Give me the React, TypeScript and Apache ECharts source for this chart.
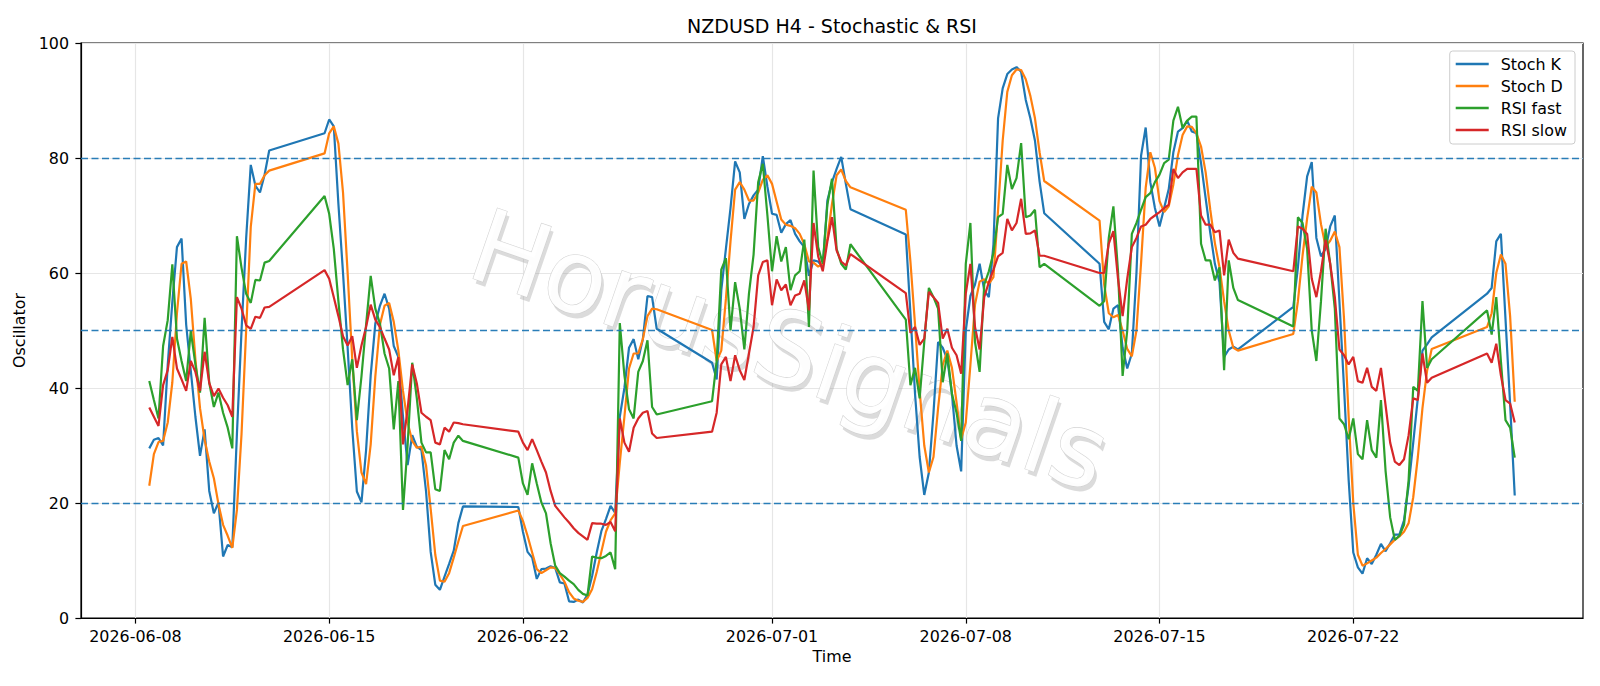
import React, { useEffect, useRef } from "react";
import * as echarts from "echarts";

// Start of each trading session (UTC); bars follow every 4 hours
const sessionStarts = [
  "2026-06-08T12:00:00Z",
  "2026-06-14T20:00:00Z",
  "2026-06-21T20:00:00Z",
  "2026-06-28T20:00:00Z",
  "2026-07-05T20:00:00Z",
  "2026-07-12T20:00:00Z",
  "2026-07-19T20:00:00Z",
  "2026-07-26T20:00:00Z",
];
const barHours = 4;

const stochK = [
  [29.5, 31.0, 31.3, 30.0, 44.0, 55.0, 64.5, 66.0, 51.0, 43.0, 35.0, 28.2, 32.8, 22.1, 18.2, 20.1, 10.7, 12.7, 12.3, 32.0, 50.0, 66.0, 78.8, 75.2, 74.0, 77.1, 81.3],
  [84.3, 86.7, 85.5, 72.0, 60.0, 47.0, 33.0, 22.0, 20.1, 29.2, 42.2, 51.2, 54.3, 56.4, 53.8, 47.3, 45.4, 35.0, 26.6, 31.8, 29.8, 29.2, 22.0, 11.5, 5.8, 4.9, 7.2, 9.4, 11.7, 16.5, 19.4],
  [19.3, 15.0, 11.5, 10.5, 6.8, 8.5, 8.6, 9.0, 8.7, 6.2, 6.0, 2.9, 2.8, 3.2, 2.7, 4.1, 7.3, 11.4, 15.1, 17.2, 19.5, 18.3, 35.0, 40.0, 47.0, 48.5, 45.0, 48.5, 56.0, 55.8, 50.3],
  [44.4, 41.5, 57.0, 64.2, 71.3, 79.4, 77.5, 69.4, 72.0, 73.5, 74.5, 80.3, 75.0, 70.3, 70.1, 67.0, 68.5, 69.2, 66.8, 65.5, 64.5, 59.5, 62.2, 62.0, 61.0, 72.6, 75.8, 78.1, 80.2, 75.5, 71.1],
  [66.7, 53.0, 39.0, 28.0, 21.4, 25.3, 35.7, 48.0, 47.0, 45.0, 39.0, 30.0, 25.5, 50.0, 56.0, 58.0, 61.6, 57.0, 55.8, 65.0, 86.9, 92.1, 94.6, 95.4, 95.8, 95.0, 90.1, 86.9, 83.0, 75.9, 70.4],
  [61.6, 51.5, 50.2, 53.8, 54.4, 47.0, 43.4, 46.0, 60.0, 80.4, 85.3, 75.8, 71.3, 68.1, 71.3, 74.6, 81.0, 84.6, 85.2, 86.5, 84.6, 84.3, 79.1, 73.0, 67.0, 61.6, 58.4, 45.4, 46.7, 47.2, 46.7],
  [54.1, 61.0, 70.0, 76.8, 79.3, 66.1, 62.9, 64.2, 68.1, 70.0, 55.0, 40.0, 24.0, 11.4, 8.8, 7.7, 10.4, 9.4, 11.0, 12.9, 11.6, 13.0, 14.5, 14.5, 17.0, 23.0, 30.5, 38.3, 46.5, 47.6, 48.8],
  [56.4, 57.4, 65.5, 66.8, 52.0, 37.2, 21.3],
];

const stochD = [
  [23.0, 28.5, 30.6, 30.8, 34.0, 41.0, 53.0, 61.6, 62.0, 55.5, 45.0, 36.5, 31.0, 27.2, 24.3, 19.8, 16.2, 14.3, 12.2, 18.8, 32.0, 50.0, 68.0, 75.5, 75.5, 77.0, 77.8],
  [80.8, 84.3, 85.5, 82.5, 74.0, 60.0, 45.0, 32.5, 25.3, 23.3, 30.2, 42.0, 51.0, 54.3, 54.8, 51.5, 46.5, 39.5, 34.0, 30.8, 29.6, 29.8, 26.5, 19.0, 11.0, 6.5, 6.3, 7.8, 10.5, 13.3, 16.0],
  [18.7, 16.9, 14.3, 11.4, 8.5, 7.8, 8.3, 8.8, 8.7, 7.6, 6.3, 4.5, 3.4, 3.0, 2.8, 3.5, 5.0, 8.0, 11.5, 15.0, 17.0, 18.2, 27.0, 35.0, 43.4, 46.0, 46.0, 48.5, 52.5, 53.8, 53.7],
  [50.1, 44.7, 46.5, 55.5, 65.5, 74.5, 75.8, 74.5, 72.6, 72.6, 74.0, 76.2, 77.0, 75.5, 72.4, 69.3, 68.4, 68.2, 67.8, 66.8, 65.0, 62.0, 61.8, 61.1, 61.6, 66.0, 72.0, 77.0, 78.0, 76.0, 74.9],
  [71.0, 62.0, 51.0, 39.5, 30.0, 25.3, 28.0, 36.5, 44.0, 46.5, 43.5, 37.5, 31.1, 34.0, 44.0, 54.5, 58.5, 58.9, 58.1, 59.3, 71.0, 83.0, 91.5, 94.4, 95.4, 95.3, 93.7, 90.8, 86.9, 81.0, 76.0],
  [69.1, 58.0, 53.0, 52.3, 52.7, 50.0, 46.8, 45.5, 50.0, 61.8, 74.8, 81.0, 78.3, 72.5, 70.6, 71.6, 75.4, 80.5, 84.0, 85.5, 85.4, 84.3, 82.0, 77.5, 71.0, 65.2, 61.0, 55.1, 50.0, 47.0, 46.5],
  [49.4, 55.1, 63.0, 69.5, 75.0, 74.0, 68.5, 64.6, 65.6, 67.2, 64.5, 52.0, 35.0, 20.0, 11.0, 9.1, 9.5, 10.0, 10.5, 11.3, 12.0, 12.8, 13.6, 14.2, 15.0, 16.5, 21.0, 28.0, 36.5, 43.0, 46.8],
  [50.6, 53.0, 60.0, 63.2, 61.6, 52.5, 37.6],
];

const rsiFast = [
  [41.2, 37.9, 34.7, 47.3, 51.8, 61.5, 48.6, 44.7, 41.2, 49.9, 44.1, 39.2, 52.2, 40.9, 36.7, 39.2, 35.7, 33.1, 29.5, 66.4, 60.9, 56.4, 54.8, 58.8, 58.7, 61.8, 62.1],
  [73.4, 70.3, 64.2, 55.1, 46.7, 40.5, 45.0, 34.4, 42.0, 51.0, 59.5, 53.8, 51.2, 46.0, 43.4, 32.8, 41.2, 18.8, 30.0, 44.4, 38.2, 30.5, 28.8, 28.8, 22.4, 22.1, 29.2, 27.6, 30.5, 31.7, 30.8],
  [27.9, 23.4, 21.4, 26.9, 23.4, 20.1, 18.2, 13.0, 9.1, 7.8, 7.2, 6.5, 5.9, 4.9, 4.2, 3.9, 10.7, 10.5, 10.4, 10.8, 11.4, 8.5, 51.3, 42.2, 36.3, 34.7, 42.8, 44.7, 48.3, 36.7, 35.4],
  [37.7, 44.7, 60.6, 62.6, 50.0, 58.4, 53.8, 46.7, 56.4, 63.2, 75.8, 79.0, 70.0, 60.3, 66.4, 62.0, 64.5, 57.0, 59.6, 60.3, 65.8, 50.6, 77.8, 64.5, 61.6, 71.9, 76.4, 64.2, 61.6, 60.6, 65.0],
  [51.9, 40.5, 43.5, 38.2, 48.0, 57.4, 55.8, 53.8, 41.0, 46.0, 39.0, 35.7, 30.8, 61.6, 68.7, 48.0, 42.8, 58.0, 60.3, 63.5, 69.7, 70.3, 78.8, 74.6, 76.5, 82.6, 69.7, 70.0, 71.0, 61.0, 61.6],
  [54.3, 55.1, 66.1, 71.6, 60.3, 42.1, 50.0, 66.8, 68.7, 71.0, 73.2, 73.9, 75.8, 77.1, 79.1, 79.7, 86.5, 88.9, 85.2, 86.5, 87.2, 87.2, 65.1, 62.2, 62.2, 58.7, 61.0, 43.1, 62.2, 57.4, 55.3],
  [50.7, 69.7, 68.7, 64.2, 50.0, 44.7, 55.1, 67.7, 61.6, 53.8, 34.7, 33.7, 31.1, 34.7, 28.5, 27.6, 34.4, 29.2, 27.9, 37.9, 25.6, 17.5, 13.6, 14.3, 16.2, 24.0, 40.2, 39.5, 55.1, 43.5, 45.0],
  [53.5, 49.3, 55.8, 44.7, 34.4, 33.1, 27.9],
];

const rsiSlow = [
  [36.6, 35.0, 33.4, 40.5, 43.1, 48.9, 43.4, 41.5, 39.5, 44.7, 42.8, 39.5, 46.3, 40.9, 38.6, 39.9, 38.3, 37.0, 35.0, 55.8, 53.8, 50.9, 50.3, 52.4, 52.2, 54.0, 54.1],
  [60.5, 59.0, 55.8, 52.5, 49.0, 47.4, 49.0, 43.5, 47.4, 50.6, 54.5, 51.9, 50.6, 48.6, 46.7, 42.2, 45.4, 30.2, 36.3, 44.1, 40.8, 35.7, 35.0, 34.4, 30.5, 30.2, 33.1, 32.4, 34.0, 33.9, 33.7],
  [32.4, 30.5, 29.2, 31.1, 29.2, 27.2, 25.3, 22.1, 19.5, 18.5, 17.5, 16.6, 15.6, 14.8, 14.2, 13.6, 16.5, 16.4, 16.4, 16.2, 16.7, 15.1, 34.7, 30.5, 28.9, 33.1, 34.7, 35.7, 36.0, 32.1, 31.3],
  [32.4, 35.7, 44.1, 45.4, 41.2, 45.7, 43.1, 41.4, 46.0, 50.6, 59.6, 61.9, 62.2, 54.4, 58.9, 57.0, 58.0, 54.4, 56.1, 56.4, 58.7, 53.5, 68.7, 62.9, 60.3, 65.5, 69.7, 63.9, 62.0, 61.3, 63.3],
  [56.5, 49.6, 50.6, 47.5, 48.6, 56.7, 55.8, 54.8, 48.6, 50.3, 47.0, 45.7, 42.5, 56.4, 61.6, 50.6, 46.7, 55.8, 58.4, 60.6, 62.9, 63.5, 69.4, 67.4, 68.7, 72.9, 66.8, 66.9, 67.4, 63.0, 63.0],
  [60.0, 60.0, 65.1, 67.3, 59.0, 52.5, 59.0, 64.5, 66.1, 68.1, 68.4, 69.4, 70.0, 70.6, 71.3, 71.9, 78.1, 76.5, 77.5, 78.1, 78.1, 78.1, 70.0, 68.4, 68.4, 67.1, 67.4, 59.6, 65.8, 63.5, 62.5],
  [60.3, 68.1, 67.7, 66.8, 59.0, 55.8, 60.3, 65.8, 61.6, 55.8, 46.7, 45.7, 44.1, 45.4, 41.2, 40.9, 43.5, 40.2, 39.5, 43.5, 37.0, 30.5, 27.2, 26.6, 27.6, 31.8, 38.2, 37.9, 46.0, 40.9, 41.8],
  [46.0, 44.4, 47.7, 42.2, 37.9, 37.3, 34.0],
];

const xTickDates = ["2026-06-08", "2026-06-15", "2026-06-22", "2026-07-01", "2026-07-08", "2026-07-15", "2026-07-22"];
const levelLines = [20, 50, 80];
const seriesNames = ["Stoch K", "Stoch D", "RSI fast", "RSI slow"];
const seriesColors = ["#1f77b4", "#ff7f0e", "#2ca02c", "#d62728"];
const titleText = "NZDUSD H4 - Stochastic & RSI";
const watermarkText = "HorusSignals";

const FONT = '"DejaVu Sans", "Liberation Sans", sans-serif';

function toPoints(weeks: number[][]): [number, number][] {
  const out: [number, number][] = [];
  weeks.forEach((vals, w) => {
    const t0 = Date.parse(sessionStarts[w]);
    vals.forEach((v, i) => out.push([t0 + i * barHours * 3600 * 1000, v]));
  });
  return out;
}

function pad(n: number) {
  return n < 10 ? "0" + n : "" + n;
}

export default function App() {
  const ref = useRef<HTMLDivElement>(null);

  useEffect(() => {
    if (!ref.current) return;
    const chart = echarts.init(ref.current, null, { renderer: "svg" });

    const all = [stochK, stochD, rsiFast, rsiSlow].map(toPoints);
    const tFirst = all[0][0][0];
    const tLast = all[0][all[0].length - 1][0];
    const span = tLast - tFirst;
    const xMin = tFirst - 0.05 * span;
    const xMax = tLast + 0.05 * span;
    const xTicks = xTickDates.map((d) => Date.parse(d + "T00:00:00Z"));

    const fontSize = 15.9;

    const option: any = {
      animation: false,
      backgroundColor: "#ffffff",
      grid: {
        left: 81,
        right: 17,
        top: 43,
        bottom: 68,
        show: true,
        borderColor: "#000000",
        borderWidth: 1.2,
        backgroundColor: "transparent",
        containLabel: false,
      },
      legend: {
        data: seriesNames,
        orient: "vertical",
        right: 25,
        top: 51,
        align: "left",
        icon: "rect",
        itemWidth: 33,
        itemHeight: 2.4,
        itemGap: 6,
        backgroundColor: "rgba(255,255,255,0.8)",
        borderColor: "#cccccc",
        borderWidth: 1,
        borderRadius: 3,
        padding: [5, 8, 6, 6],
        textStyle: {
          fontFamily: FONT,
          fontSize: fontSize,
          color: "#000000",
          padding: [0, 0, 0, 7],
        },
      },
      xAxis: {
        type: "value",
        min: xMin,
        max: xMax,
        name: "Time",
        nameLocation: "middle",
        nameGap: 30,
        nameTextStyle: { fontFamily: FONT, fontSize: fontSize, color: "#000000" },
        axisLine: { show: true, lineStyle: { color: "#000000", width: 1.2 } },
        axisTick: {
          show: true,
          length: 5.6,
          inside: false,
          customValues: xTicks,
          lineStyle: { color: "#000000", width: 1.2 },
        },
        axisLabel: {
          customValues: xTicks,
          margin: 10,
          fontFamily: FONT,
          fontSize: fontSize,
          color: "#000000",
          formatter: (v: number) => {
            const d = new Date(v);
            return d.getUTCFullYear() + "-" + pad(d.getUTCMonth() + 1) + "-" + pad(d.getUTCDate());
          },
        },
        splitLine: { show: false },
      },
      yAxis: {
        type: "value",
        min: 0,
        max: 100,
        interval: 20,
        name: "Oscillator",
        nameLocation: "middle",
        nameGap: 47,
        nameTextStyle: { fontFamily: FONT, fontSize: fontSize, color: "#000000" },
        axisLine: { show: true, lineStyle: { color: "#000000", width: 1.2 } },
        axisTick: { show: true, length: 5.6, inside: false, lineStyle: { color: "#000000", width: 1.2 } },
        axisLabel: { margin: 12, fontFamily: FONT, fontSize: fontSize, color: "#000000" },
        splitLine: { show: true, lineStyle: { color: "#e6e6e6", width: 1.2 } },
      },
      graphic: {
        elements: [
          {
            type: "text",
            x: 832,
            y: 26,
            z: 10,
            style: {
              text: titleText,
              font: "19px " + FONT,
              fill: "#000000",
              align: "center",
              verticalAlign: "middle",
              textAlign: "center",
              textVerticalAlign: "middle",
            },
          },
          {
            type: "group",
            x: 790,
            y: 350,
            rotation: (-19 * Math.PI) / 180,
            z: 1,
            silent: true,
            children: [
              {
                type: "text",
                x: 4,
                y: 4,
                z: 1,
                style: {
                  text: watermarkText,
                  font: "102px " + FONT,
                  fill: "rgba(160,160,160,0.38)",
                  align: "center",
                  verticalAlign: "middle",
                  textAlign: "center",
                  textVerticalAlign: "middle",
                },
              },
              {
                type: "text",
                x: 0,
                y: 0,
                z: 1,
                style: {
                  text: watermarkText,
                  font: "102px " + FONT,
                  fill: "rgba(255,255,255,0.95)",
                  stroke: "rgba(205,205,205,0.9)",
                  lineWidth: 1.1,
                  align: "center",
                  verticalAlign: "middle",
                  textAlign: "center",
                  textVerticalAlign: "middle",
                },
              },
            ],
          },
        ],
      },
      series: [
        {
          name: "_vgrid",
          type: "line",
          data: [],
          silent: true,
          z: 0,
          markLine: {
            silent: true,
            z: 0,
            symbol: ["none", "none"],
            label: { show: false },
            lineStyle: { color: "#e6e6e6", width: 1.2, type: "solid" },
            emphasis: { disabled: true },
            data: xTicks.map((t) => ({ xAxis: t })),
          },
        },
        ...seriesNames.map((name, i) => ({
          name,
          type: "line",
          data: all[i],
          symbol: "none",
          showSymbol: false,
          z: 2,
          lineStyle: { color: seriesColors[i], width: 2.2 },
          itemStyle: { color: seriesColors[i] },
          emphasis: { disabled: true },
        })),
        {
          name: "_levels",
          type: "line",
          data: [],
          silent: true,
          z: 3,
          markLine: {
            silent: true,
            z: 3,
            symbol: ["none", "none"],
            label: { show: false },
            lineStyle: { color: "#1f77b4", width: 1.4, type: [7, 3.5], opacity: 0.95 },
            emphasis: { disabled: true },
            data: levelLines.map((v) => ({ yAxis: v })),
          },
        },
      ],
    };

    chart.setOption(option);
    return () => {
      chart.dispose();
    };
  }, []);

  return (
    <div
      ref={ref}
      style={{ position: "absolute", left: 0, top: 0, width: 1600, height: 686, background: "#ffffff" }}
    />
  );
}
